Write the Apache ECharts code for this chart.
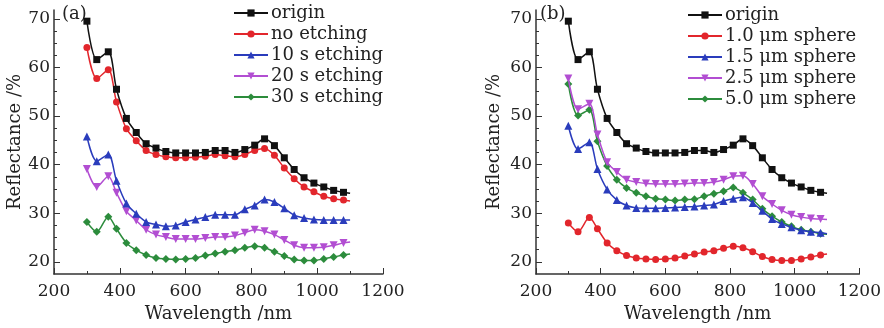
<!DOCTYPE html>
<html>
<head>
<meta charset="utf-8">
<script src="https://cdn.jsdelivr.net/npm/echarts@6.0.0/dist/echarts.min.js"></script>
<style>
  html, body { margin: 0; padding: 0; background: #fff; }
  #chart { width: 884px; height: 328px; }
</style>
</head>
<body>
<div id="chart"></div>
<script>
// wavelength sample points (nm); the last point only continues the line
const wavelength = [300, 330, 365, 390, 420, 450, 480, 510, 540, 570, 600, 630, 660, 690,
  720, 750, 780, 810, 840, 870, 900, 930, 960, 990, 1020, 1050, 1080, 1100];

const origin = [69.5, 61.6, 63.2, 55.5, 49.5, 46.6, 44.3, 43.4, 42.7, 42.4, 42.4, 42.4, 42.5, 42.9,
  42.9, 42.5, 43.1, 44.0, 45.3, 43.9, 41.4, 39.0, 37.3, 36.2, 35.4, 34.7, 34.3, 34.1];

// panel (a)
const noEtching = [64.1, 57.7, 59.5, 52.9, 47.4, 44.9, 42.9, 42.1, 41.6, 41.4, 41.4, 41.5, 41.7, 42.1,
  41.8, 41.6, 42.1, 42.9, 43.3, 41.9, 39.3, 37.1, 35.4, 34.4, 33.5, 33.0, 32.7, 32.5];
const etch10 = [45.8, 40.7, 42.1, 36.7, 32.0, 29.9, 28.2, 27.7, 27.3, 27.5, 28.2, 28.7, 29.2, 29.7,
  29.7, 29.7, 30.8, 31.6, 32.8, 32.3, 31.0, 29.6, 29.0, 28.7, 28.6, 28.6, 28.6, 28.6];
const etch20 = [39.1, 35.4, 37.6, 34.2, 30.4, 28.5, 26.6, 25.6, 25.1, 24.7, 24.7, 24.7, 24.9, 25.1,
  25.1, 25.4, 26.0, 26.6, 26.3, 25.6, 24.5, 23.4, 22.9, 22.9, 23.0, 23.4, 23.9, 24.1];
const etch30 = [28.2, 26.2, 29.3, 26.8, 23.9, 22.4, 21.4, 20.8, 20.6, 20.5, 20.6, 20.8, 21.3, 21.7,
  22.1, 22.4, 22.9, 23.2, 22.9, 22.1, 21.2, 20.5, 20.3, 20.3, 20.6, 21.0, 21.4, 21.6];

// panel (b)
const sphere10 = [28.0, 26.2, 29.1, 26.8, 23.9, 22.3, 21.3, 20.8, 20.6, 20.5, 20.6, 20.8, 21.2, 21.6,
  22.0, 22.3, 22.8, 23.2, 22.9, 22.1, 21.1, 20.5, 20.3, 20.3, 20.6, 21.0, 21.4, 21.6];
const sphere15 = [48.0, 43.2, 44.6, 39.1, 34.9, 32.7, 31.6, 31.1, 31.0, 31.0, 31.1, 31.2, 31.3, 31.4,
  31.6, 31.8, 32.5, 33.0, 33.3, 32.1, 30.5, 28.8, 27.8, 27.1, 26.5, 26.2, 26.0, 25.8];
const sphere25 = [57.7, 51.4, 52.5, 46.2, 40.5, 38.5, 36.9, 36.4, 36.1, 36.0, 36.0, 36.0, 36.1, 36.2,
  36.2, 36.4, 36.9, 37.6, 37.7, 36.0, 33.5, 31.9, 30.6, 29.7, 29.2, 28.9, 28.8, 28.7];
const sphere50 = [56.6, 50.1, 51.3, 44.8, 39.7, 36.9, 35.2, 34.2, 33.5, 33.0, 32.8, 32.6, 32.8, 32.9,
  33.5, 34.0, 34.5, 35.3, 34.2, 32.8, 30.9, 29.4, 28.2, 27.3, 26.6, 26.2, 25.8, 25.7];

const namesA = ['origin', 'no etching', '10 s etching', '20 s etching', '30 s etching'];
const namesB = ['origin', '1.0 \u03bcm sphere', '1.5 \u03bcm sphere', '2.5 \u03bcm sphere', '5.0 \u03bcm sphere'];
const yLabels = [20, 30, 40, 50, 60, 70];
const yMinorTicks = [20, 22.5, 25, 27.5, 30, 32.5, 35, 37.5, 40, 42.5, 45, 47.5, 50, 52.5, 55, 57.5, 60, 62.5, 65, 67.5, 70];

const colors = ['#111111', '#e2262c', '#2a3cbc', '#b24ed2', '#2c8c3c'];
const symbols = ['rect', 'circle', 'triangle', 'path://M0,0 L10,0 L5,10 Z', 'diamond'];
const symbolSizes = [7, 7, 8, 8, 8];

const FONT = 'DejaVu Serif';
const axisColor = '#333';
const grids = [
  { left: 54, right: 501, top: 10, bottom: 54 },
  { left: 536, right: 19, top: 10, bottom: 54 }
];

function pairs(values) {
  return values.map((v, i) => {
    if (i === values.length - 1) return { value: [wavelength[i], v], symbol: 'none' };
    return [wavelength[i], v];
  });
}

function makeSeries(names, sets, gridIdx) {
  return names.map((name, i) => ({
    name: name,
    type: 'line',
    xAxisIndex: gridIdx,
    yAxisIndex: gridIdx * 2,
    data: pairs(sets[i]),
    smooth: 0.3,
    symbol: symbols[i],
    symbolSize: symbolSizes[i],
    color: colors[i],
    lineStyle: { width: 1.5, color: colors[i] },
    itemStyle: { color: colors[i] },
    z: 10 - i
  }));
}

function xAxis(gridIdx) {
  return {
    type: 'value', gridIndex: gridIdx,
    min: 200, max: 1200, interval: 200,
    name: 'Wavelength /nm', nameLocation: 'middle', nameGap: 28,
    nameTextStyle: { fontFamily: FONT, fontSize: 18, color: '#222' },
    axisLine: { show: true, onZero: false, lineStyle: { color: axisColor, width: 1.5 } },
    axisTick: { inside: true, length: 6, lineStyle: { color: axisColor } },
    minorTick: { show: true, splitNumber: 2, length: 3, lineStyle: { color: axisColor } },
    axisLabel: { fontFamily: FONT, fontSize: 17, color: '#222', margin: 9, formatter: v => String(v) },
    splitLine: { show: false }
  };
}

function yAxes(gridIdx) {
  return [{
    type: 'value', gridIndex: gridIdx,
    min: 17.5, max: 71.8,
    name: 'Reflectance /%', nameLocation: 'middle', nameGap: gridIdx === 0 ? 30 : 33,
    nameTextStyle: { fontFamily: FONT, fontSize: 18, color: '#222' },
    axisLine: { show: true, onZero: false, lineStyle: { color: axisColor, width: 1.5 } },
    axisTick: { inside: true, length: 6, customValues: yLabels, lineStyle: { color: axisColor } },
    axisLabel: { fontFamily: FONT, fontSize: 17, color: '#222', margin: 4, customValues: yLabels },
    splitLine: { show: false }
  }, {
    type: 'value', gridIndex: gridIdx,
    min: 17.5, max: 71.8, position: 'left',
    axisLine: { show: false, onZero: false },
    axisTick: { inside: true, length: 3, customValues: yMinorTicks, lineStyle: { color: axisColor } },
    axisLabel: { show: false },
    splitLine: { show: false }
  }];
}

function legend(names, left, top) {
  return {
    data: names, left: left, top: top, orient: 'vertical', padding: 0,
    itemWidth: 34, itemHeight: 9, itemGap: 3,
    selectedMode: false,
    textStyle: { fontFamily: FONT, fontSize: 18, color: '#222', padding: [0, 0, 0, -2] }
  };
}

const chart = echarts.init(document.getElementById('chart'), null, { renderer: 'canvas' });
chart.setOption({
  backgroundColor: '#fff',
  animation: false,
  grid: grids,
  xAxis: [xAxis(0), xAxis(1)],
  yAxis: yAxes(0).concat(yAxes(1)),
  legend: [legend(namesA, 233, 4), legend(namesB, 687, 6)],
  graphic: [
    { type: 'text', left: 62, top: 5, style: { text: '(a)', font: '18px "DejaVu Serif"', fill: '#222' } },
    { type: 'text', left: 540, top: 5, style: { text: '(b)', font: '18px "DejaVu Serif"', fill: '#222' } }
  ],
  series: makeSeries(namesA, [origin, noEtching, etch10, etch20, etch30], 0)
    .concat(makeSeries(namesB, [origin, sphere10, sphere15, sphere25, sphere50], 1))
});
</script>
</body>
</html>
